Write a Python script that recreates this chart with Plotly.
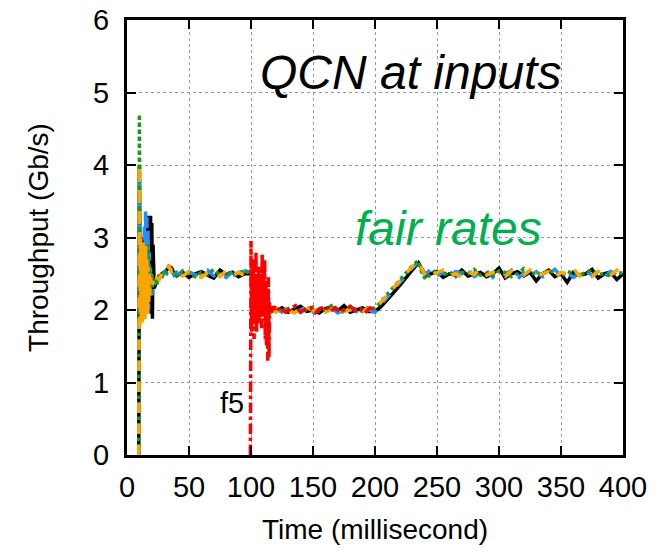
import plotly.graph_objects as go

# ---------------- data ----------------
time_ms = [9.5,
           10, 10.5, 11, 11.5, 12, 12.5, 13, 13.5, 14, 14.5, 15, 15.5, 16, 16.5, 17, 17.5, 18, 18.5, 19, 19.5, 20, 20.5, 21,
           22, 23, 24, 26, 28, 30, 32, 34, 36, 38,
           40, 45, 50, 55, 60, 65, 70, 75, 80, 85, 90, 95,
           100, 102, 104, 106, 108, 110, 112, 114, 116,
           120, 125, 130, 135, 140, 145, 150, 155, 160, 165, 170, 175, 180, 185, 190, 195,
           200, 205, 210, 215, 220, 225, 230, 235,
           238, 241,
           245, 250, 255, 260, 265, 270, 275, 280, 285, 290, 295, 300, 305, 310, 315, 320,
           325, 330, 335, 340, 345, 350, 355, 360, 365, 370, 375, 380, 385, 390, 395, 400]

f1_black = [0,
            4.0, 2.1, 2.9, 2.0, 2.7, 2.2, 3.0, 2.1, 2.8, 2.3, 3.1, 2.2, 3.2, 2.1, 3.3, 2.0, 3.2, 2.1, 3.3, 1.95, 3.2, 1.88, 2.9,
            2.3, 2.38, 2.42, 2.45, 2.5, 2.52, 2.55, 2.6, 2.58, 2.5,
            2.47, 2.52, 2.45, 2.5, 2.53, 2.48, 2.44, 2.55, 2.49, 2.52, 2.46, 2.5,
            2.5, 2.42, 2.3, 2.2, 2.12, 2.05, 2.0, 1.97, 2.02,
            1.98, 2.03, 1.97, 2.01, 2.05, 1.98, 2.0, 1.96, 2.02, 2.04, 1.99, 2.06, 1.97, 2.0, 2.03, 1.98,
            1.98, 2.05, 2.14, 2.24, 2.34, 2.45, 2.55, 2.65,
            2.55, 2.47,
            2.5, 2.53, 2.45, 2.5, 2.48, 2.55, 2.47, 2.5, 2.52, 2.46, 2.5, 2.58, 2.44, 2.5, 2.53, 2.47,
            2.52, 2.4, 2.5, 2.55, 2.46, 2.5, 2.38, 2.52, 2.48, 2.5, 2.56, 2.44, 2.5, 2.52, 2.42, 2.5]

f2_blue = [0,
           3.8, 2.0, 2.6, 2.1, 2.8, 2.0, 3.0, 2.1, 3.2, 2.0, 3.4, 2.2, 3.35, 2.1, 3.1, 2.0, 2.8, 2.2, 2.6, 2.3, 2.5, 2.2, 2.4,
           2.35, 2.42, 2.4, 2.48, 2.44, 2.52, 2.5, 2.57, 2.55, 2.48,
           2.52, 2.46, 2.53, 2.48, 2.5, 2.55, 2.47, 2.51, 2.45, 2.53, 2.49, 2.54,
           2.52, 2.45, 2.33, 2.24, 2.15, 2.08, 2.03, 2.0, 1.98,
           2.02, 1.97, 2.04, 1.98, 2.0, 2.05, 1.97, 2.02, 1.99, 2.03, 1.96, 2.01, 2.05, 1.98, 2.02, 2.0,
           1.97, 2.08, 2.18, 2.28, 2.38, 2.48, 2.58, 2.66,
           2.52, 2.5,
           2.56, 2.47, 2.52, 2.44, 2.53, 2.5, 2.57, 2.46, 2.5, 2.54, 2.45, 2.52, 2.49, 2.55, 2.43, 2.51,
           2.48, 2.53, 2.46, 2.5, 2.56, 2.47, 2.52, 2.45, 2.5, 2.54, 2.48, 2.51, 2.46, 2.53, 2.49, 2.5]

f3_green = [0,
            4.7, 2.2, 2.7, 2.1, 2.6, 2.2, 2.8, 2.1, 2.7, 2.3, 2.9, 2.2, 2.8, 2.3, 2.9, 2.4, 2.6, 2.3, 2.5, 2.2, 2.45, 2.3, 2.4,
            2.38, 2.45, 2.35, 2.5, 2.47, 2.55, 2.52, 2.62, 2.55, 2.5,
            2.48, 2.54, 2.5, 2.46, 2.52, 2.49, 2.56, 2.48, 2.53, 2.47, 2.51, 2.55,
            2.48, 2.4, 2.3, 2.2, 2.12, 2.06, 2.02, 2.04, 1.97,
            2.03, 1.99, 2.02, 2.05, 1.97, 2.01, 2.04, 1.98, 2.0, 2.06, 1.99, 1.97, 2.03, 2.01, 1.98, 2.04,
            2.02, 2.12, 2.22, 2.32, 2.42, 2.52, 2.61, 2.68,
            2.5, 2.42,
            2.5, 2.55, 2.48, 2.53, 2.46, 2.52, 2.5, 2.56, 2.48, 2.51, 2.47, 2.54, 2.52, 2.46, 2.5, 2.57,
            2.49, 2.52, 2.48, 2.55, 2.5, 2.46, 2.53, 2.5, 2.48, 2.52, 2.55, 2.49, 2.5, 2.47, 2.53, 2.5]

f4_orange = [0,
             4.0, 1.8, 3.0, 1.9, 2.9, 1.8, 3.0, 1.9, 2.8, 1.85, 2.9, 2.0, 2.7, 1.9, 2.6, 2.1, 2.5, 2.2, 2.45, 2.3, 2.4, 2.35, 2.42,
             2.4, 2.36, 2.44, 2.42, 2.5, 2.48, 2.57, 2.6, 2.52, 2.47,
             2.5, 2.47, 2.53, 2.49, 2.45, 2.52, 2.5, 2.46, 2.54, 2.48, 2.52, 2.47,
             2.5, 2.44, 2.35, 2.25, 2.16, 2.1, 2.05, 1.98, 2.02,
             1.97, 2.03, 2.0, 1.96, 2.02, 2.04, 1.99, 2.03, 1.97, 2.01, 2.05, 1.98, 2.0, 2.04, 1.99, 2.02,
             2.0, 2.11, 2.21, 2.31, 2.41, 2.51, 2.6, 2.67,
             2.56, 2.45,
             2.48, 2.52, 2.55, 2.47, 2.5, 2.45, 2.53, 2.49, 2.56, 2.48, 2.52, 2.5, 2.46, 2.54, 2.5, 2.48,
             2.55, 2.47, 2.5, 2.53, 2.45, 2.52, 2.5, 2.57, 2.47, 2.5, 2.46, 2.53, 2.5, 2.48, 2.55, 2.5]

time_f5 = [99.5,
           100, 100.5, 101, 101.5, 102, 102.5, 103, 103.5, 104, 104.5, 105, 105.5, 106, 106.5, 107, 107.5,
           108, 108.5, 109, 109.5, 110, 110.5, 111, 111.5, 112, 112.5, 113, 113.5, 114, 114.5, 115,
           116, 118,
           120, 124, 128, 132, 136, 140, 144, 148, 152, 156, 160, 164, 168, 172, 176, 180, 184, 188, 192, 196, 200]

f5_red = [0,
          2.95, 1.7, 2.6, 1.8, 2.7, 1.6, 2.5, 2.0, 2.8, 1.7, 2.4, 2.1, 2.6, 1.8, 2.3, 1.9,
          2.5, 1.75, 2.78, 1.9, 2.6, 2.0, 2.7, 1.6, 2.4, 1.5, 2.2, 1.3, 2.45, 1.35, 2.1,
          1.95, 2.05,
          1.98, 2.04, 1.97, 2.02, 2.06, 1.97, 2.01, 2.03, 1.96, 2.02, 2.05, 1.98, 2.03, 1.97, 2.01, 2.05,
          1.99, 2.02, 1.96, 2.03, 2.0]

x_ticks = [0, 50, 100, 150, 200, 250, 300, 350, 400]
y_ticks = [0, 1, 2, 3, 4, 5, 6]

# ---------------- figure ----------------
FONT = "Liberation Sans, Arial, sans-serif"

series = [
    ("f1", time_ms, f1_black, "#000000", "solid"),
    ("f2", time_ms, f2_blue, "#1e90ff", "dash"),
    ("f3", time_ms, f3_green, "#1a9a1a", "dot"),
    ("f4", time_ms, f4_orange, "#ffa500", "dash"),
    ("f5", time_f5, f5_red, "#ff0000", "dashdot"),
]

fig = go.Figure()
for name, xs, ys, col, dash in series:
    fig.add_trace(go.Scatter(x=xs, y=ys, mode="lines", name=name,
                             line=dict(color=col, width=3.5, dash=dash),
                             showlegend=False))

axis_common = dict(
    showline=True, linecolor="black", linewidth=3, mirror="ticks",
    ticks="inside", ticklen=9, tickwidth=2, tickcolor="black",
    showgrid=True, gridcolor="#999999", griddash="dot", gridwidth=1,
    zeroline=False, automargin=False, ticklabeloverflow="allow",
    tickfont=dict(family=FONT, size=29, color="black"),
)

fig.update_xaxes(range=[0, 400], tickvals=x_ticks, ticktext=[str(v) for v in x_ticks],
                 ticklabelstandoff=4,
                 title=dict(text="Time (millisecond)", font=dict(family=FONT, size=28, color="black"),
                            standoff=18),
                 **axis_common)
fig.update_yaxes(range=[0, 6], tickvals=y_ticks, ticktext=[str(v) for v in y_ticks],
                 ticklabelstandoff=9,
                 title=dict(text="Throughput (Gb/s)", font=dict(family=FONT, size=28, color="black"),
                            standoff=37),
                 **axis_common)

fig.add_annotation(x=229, y=5.28, xref="x", yref="y", text="<i>QCN at inputs</i>", showarrow=False,
                   font=dict(family=FONT, size=48, color="black"))
fig.add_annotation(x=259, y=3.13, xref="x", yref="y", text="<i>fair rates</i>", showarrow=False,
                   font=dict(family=FONT, size=48, color="#00b04f"))
fig.add_annotation(x=85, y=0.72, xref="x", yref="y", text="f5", showarrow=False,
                   font=dict(family=FONT, size=29, color="black"))

# the page body adds an 8 px offset, so the figure is sized/margined to compensate
fig.update_layout(
    width=661, height=544,
    margin=dict(l=119, r=46, t=12, b=97),
    paper_bgcolor="white", plot_bgcolor="white",
)

fig.write_html("out.html")
